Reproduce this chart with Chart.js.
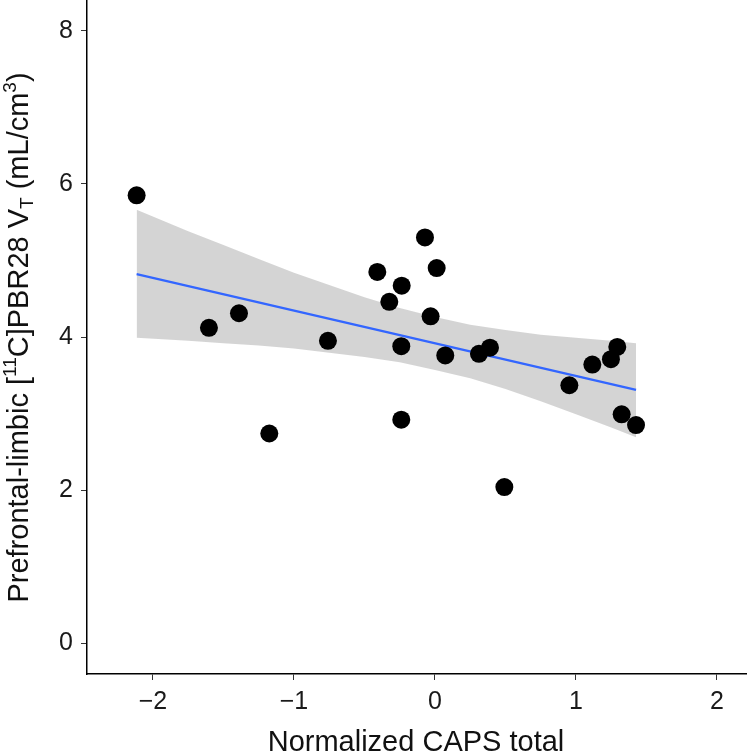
<!DOCTYPE html>
<html>
<head>
<meta charset="utf-8">
<script src="https://cdn.jsdelivr.net/npm/chart.js@4.4.1/dist/chart.umd.min.js"></script>
<style>
html,body{margin:0;padding:0;background:#fff;overflow:hidden;}
canvas{display:block;}
</style>
</head>
<body>
<canvas id="c" width="747" height="755"></canvas>
<script>
// ---- data ----
const capsX = [-2.116,-1.603,-1.39,-1.175,-0.759,-0.409,-0.324,-0.236,-0.239,-0.239,-0.071,-0.031,0.012,0.073,0.312,0.39,0.492,0.953,1.116,1.248,1.293,1.324,1.426];
const vtY   = [5.85,4.12,4.31,2.74,3.95,4.85,4.46,4.67,3.88,2.92,5.30,4.27,4.90,3.76,3.78,3.86,2.04,3.37,3.64,3.71,3.87,2.99,2.85];

const fitX = [-2.116, 1.426];
const fitY = [4.82, 3.31];

const bandX     = [-2.116,-1.75,-1.5,-1.25,-1.0,-0.5,-0.25,0,0.25,0.5,0.75,1.0,1.25,1.426];
const bandUpper = [5.66,5.38,5.20,5.02,4.84,4.52,4.38,4.26,4.16,4.09,4.03,3.99,3.95,3.92];
const bandLower = [3.99,3.95,3.92,3.89,3.85,3.74,3.67,3.57,3.46,3.32,3.16,2.99,2.82,2.69];

const xTicks = [-2,-1,0,1,2];
const yTicks = [0,2,4,6,8];

const xTitle = "Normalized CAPS total";
// y title pieces: [text, kind] kind: n=normal, sup, sub
const yTitleParts = [["Prefrontal-limbic [","n"],["11","sup"],["C]PBR28 V","n"],["T","sub"],[" (mL/cm","n"],["3","sup"],[")","n"]];

const FONT = "'Liberation Sans', Arial, Helvetica, sans-serif";

const pts = (xs, ys) => xs.map((x,i)=>({x:x, y:ys[i]}));

const titlePlugin = {
  id:'titles',
  afterDraw(chart){
    const ctx = chart.ctx;
    ctx.save();
    ctx.fillStyle = '#111';
    // x title
    ctx.font = "29px " + FONT;
    ctx.textAlign = 'center';
    ctx.textBaseline = 'alphabetic';
    ctx.fillText(xTitle, 416, 751);
    // y title, rotated
    const big = "29px " + FONT, small = "19px " + FONT;
    let total = 0;
    const widths = yTitleParts.map(p=>{ ctx.font = p[1]==='n'?big:small; const w = ctx.measureText(p[0]).width; total += w; return w; });
    ctx.translate(28, 337.5);
    ctx.rotate(-Math.PI/2);
    ctx.textAlign = 'left';
    ctx.textBaseline = 'alphabetic';
    let x = -total/2;
    yTitleParts.forEach((p,i)=>{
      ctx.font = p[1]==='n'?big:small;
      let dy = 0;
      if(p[1]==='sup') dy = -12;
      if(p[1]==='sub') dy = 5;
      ctx.fillText(p[0], x, dy);
      x += widths[i];
    });
    ctx.restore();
  }
};

new Chart(document.getElementById('c'), {
  type:'scatter',
  data:{
    datasets:[
      {data:pts(bandX,bandUpper), showLine:true, pointRadius:0, borderWidth:0, borderColor:'rgba(0,0,0,0)', backgroundColor:'rgba(153,153,153,0.42)', fill:'+1', order:3},
      {data:pts(bandX,bandLower), showLine:true, pointRadius:0, borderWidth:0, borderColor:'rgba(0,0,0,0)', fill:false, order:3},
      {data:pts(fitX,fitY), showLine:true, pointRadius:0, borderWidth:2.2, borderColor:'#3366FF', fill:false, order:2},
      {data:pts(capsX,vtY), pointRadius:9, pointHoverRadius:9, backgroundColor:'#000', borderWidth:0, order:1}
    ]
  },
  options:{
    responsive:false, animation:false, devicePixelRatio:1,
    layout:{padding:0, autoPadding:false},
    plugins:{legend:{display:false}, tooltip:{enabled:false}},
    scales:{
      x:{
        type:'linear', min:-2.468, max:2.213,
        afterBuildTicks(s){ s.ticks = xTicks.map(v=>({value:v})); },
        afterFit(s){ s.height = 81; s.paddingLeft = 0; s.paddingRight = 0; },
        grid:{drawOnChartArea:false, drawTicks:true, tickLength:6, color:'#333', lineWidth:1},
        border:{display:true, color:'#000', width:1.5},
        ticks:{font:{family:FONT, size:25}, color:'#1a1a1a', padding:7, maxRotation:0,
          callback:v=> v<0 ? '\u2212'+Math.abs(v) : String(v)}
      },
      y:{
        type:'linear', min:-0.4, max:8.4,
        afterBuildTicks(s){ s.ticks = yTicks.map(v=>({value:v})); },
        afterFit(s){ s.width = 87; s.paddingTop = 0; s.paddingBottom = 0; },
        grid:{drawOnChartArea:false, drawTicks:true, tickLength:6, color:'#333', lineWidth:1},
        border:{display:true, color:'#000', width:1.5},
        ticks:{font:{family:FONT, size:25}, color:'#1a1a1a', padding:8}
      }
    }
  },
  plugins:[titlePlugin]
});
</script>
</body>
</html>
